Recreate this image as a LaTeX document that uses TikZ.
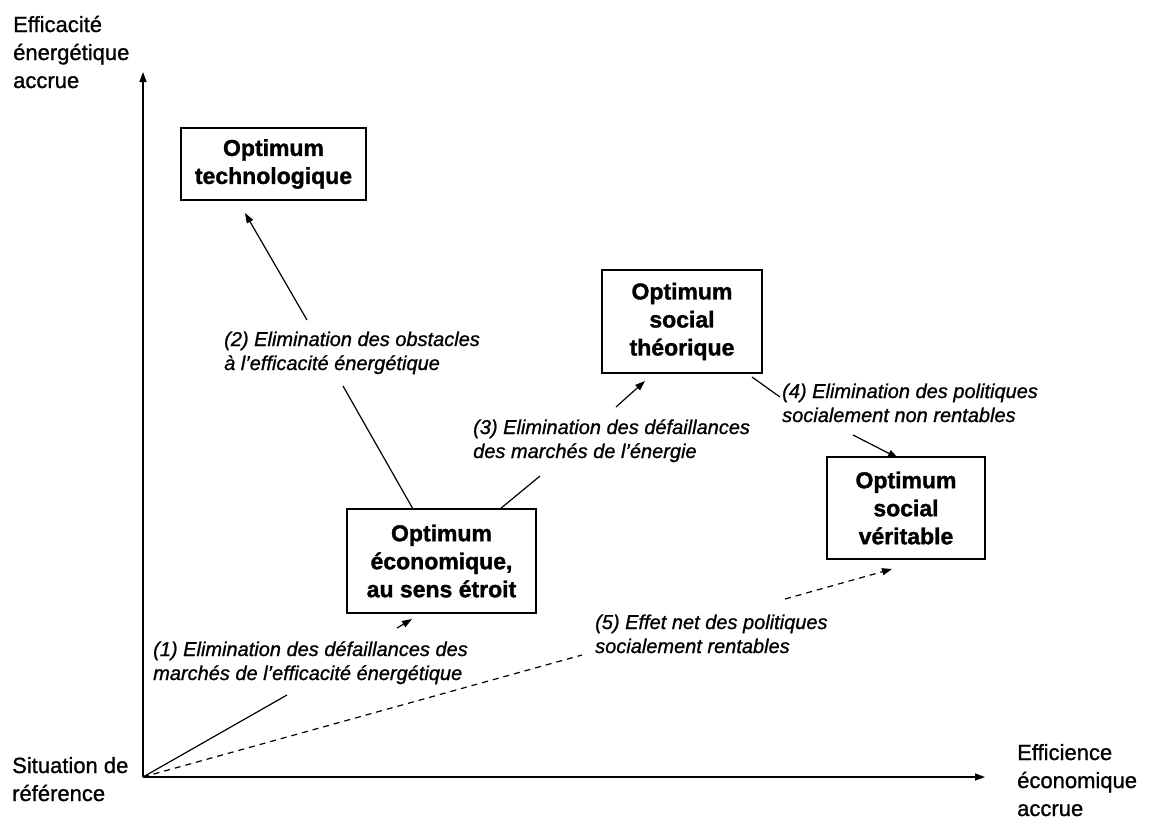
\documentclass[tikz,border=0pt]{standalone}
\usepackage{fontspec}
\setmainfont{Liberation Sans}
\newfontfamily\heavyfont{Liberation Sans}[FakeBold=1.0]
\newfontfamily\boxfont{Liberation Sans Bold}[FakeBold=1.4]
\usetikzlibrary{arrows.meta}
\newcommand{\txtlines}[2]{\begin{tabular}[t]{@{}#1@{}}#2\end{tabular}}
\begin{document}
\begin{tikzpicture}[x=1pt,y=-1pt,
  axislabel/.style={anchor=base west, inner sep=0pt, font=\heavyfont\fontsize{22}{28}\selectfont},
  optbox/.style={draw, line width=1.3pt, align=center, inner sep=0pt, font=\boxfont\fontsize{23}{28}\selectfont},
  steplabel/.style={anchor=base west, inner sep=0pt, font=\heavyfont\fontsize{20}{24}\selectfont\itshape},
  conn/.style={line width=1.2pt},
  tip/.style={-{Triangle[length=10pt,width=7pt]}},
  dashline/.style={conn, dash pattern=on 6pt off 5pt}
]
\useasboundingbox (0,0) rectangle (1150,820);

% axes
\coordinate (O) at (143,777);
\coordinate (ytop) at (143,72);
\coordinate (xend) at (985,777);
\draw[conn, tip] (O) -- (ytop);
\draw[conn, tip] (O) -- (xend);

\node[axislabel] (ylab) at (13,32) {\txtlines{l}{Efficacité\\énergétique\\accrue}};
\node[axislabel] (olab) at (12,773) {\txtlines{l}{Situation de\\référence}};
\node[axislabel] (xlab) at (1017,760) {\txtlines{l}{Efficience\\économique\\accrue}};

% boxes
\node[optbox, minimum width=185pt, minimum height=72pt] (tech) at (273.5,164) {Optimum\\technologique};
\node[optbox, minimum width=189pt, minimum height=104pt] (eco) at (441.5,561) {Optimum\\économique,\\au sens étroit};
\node[optbox, minimum width=160pt, minimum height=103pt] (theo) at (682,321.5) {Optimum\\social\\théorique};
\node[optbox, minimum width=158pt, minimum height=102pt] (verit) at (906,508) {Optimum\\social\\véritable};

% labels
\node[steplabel] (l1) at (153,656) {\txtlines{l}{(1) Elimination des défaillances des\\marchés de l’efficacité énergétique}};
\node[steplabel] (l2) at (224,346) {\txtlines{l}{(2) Elimination des obstacles\\à l’efficacité énergétique}};
\node[steplabel] (l3) at (473,434) {\txtlines{l}{(3) Elimination des défaillances\\des marchés de l’énergie}};
\node[steplabel] (l4) at (782,398) {\txtlines{l}{(4) Elimination des politiques\\socialement non rentables}};
\node[steplabel] (l5) at (595,629) {\txtlines{l}{(5) Effet net des politiques\\socialement rentables}};

% (1)
\coordinate (a1) at (287,695);
\coordinate (b1) at (397,628);
\coordinate (t1) at (412,619);
\draw[conn] (O) -- (a1);
\draw[conn, tip] (b1) -- (t1);
% (2)
\coordinate (s2) at (413,509);
\coordinate (a2) at (343,386);
\coordinate (b2) at (307,320);
\coordinate (t2) at (245,213);
\draw[conn] (s2) -- (a2);
\draw[conn, tip] (b2) -- (t2);
% (3)
\coordinate (s3) at (500,509);
\coordinate (a3) at (540,476);
\coordinate (b3) at (616,407);
\coordinate (t3) at (645,381);
\draw[conn] (s3) -- (a3);
\draw[conn, tip] (b3) -- (t3);
% (4)
\coordinate (s4) at (752,377);
\coordinate (a4) at (780,397);
\coordinate (b4) at (853,435);
\coordinate (t4) at (898,458);
\draw[conn] (s4) -- (a4);
\draw[conn, tip] (b4) -- (t4);
% (5)
\coordinate (a5) at (582,655);
\coordinate (b5) at (785,599);
\coordinate (t5) at (892,569);
\draw[dashline] (O) -- (a5);
\draw[dashline, tip] (b5) -- (t5);
\end{tikzpicture}
\end{document}
